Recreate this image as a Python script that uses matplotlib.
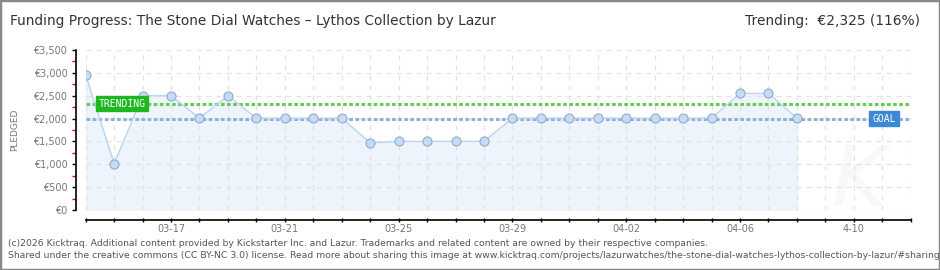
import matplotlib
matplotlib.use("Agg")
import matplotlib.pyplot as plt
from matplotlib.patches import Rectangle
from matplotlib.ticker import MultipleLocator, FuncFormatter

# data (day 0 = 03-14)
days = list(range(26))
pledged = [2950, 1010, 2500, 2500, 2010, 2500, 2010, 2010, 2010, 2010,
           1470, 1500, 1500, 1500, 1500, 2010, 2010, 2010, 2010, 2010,
           2010, 2010, 2010, 2550, 2550, 2010]
goal = 2000
trending = 2325
tick_days = [3, 7, 11, 15, 19, 23, 27]
tick_labels = ['03-17', '03-21', '03-25', '03-29', '04-02', '04-06', '4-10']

W, H = 940, 270
fig = plt.figure(figsize=(W / 100, H / 100), dpi=100)
fig.patch.set_facecolor('white')

# axes box in pixels: x 85.7..910.7, y 50..210 (from top)
x0, x1, yt, yb = 85.7, 910.7, 50, 210
ax = fig.add_axes([x0 / W, 1 - yb / H, (x1 - x0) / W, (yb - yt) / H])
ax.set_xlim(0, 29)
ax.set_ylim(0, 3500)

ax.fill_between(days, pledged, 0, color='#eef4fc', zorder=1)
ax.plot(days, pledged, color='#b9d5f2', lw=1, zorder=3)
ax.plot(days, pledged, 'o', ms=6.5, mfc='#c5dcf6', mec='#92abc8', mew=0.8, zorder=4)

ax.axhline(trending, color='#66cc55', lw=2.2, ls=(0, (1.2, 0.8)), zorder=2)
ax.axhline(goal, color='#8fb0d8', lw=2.2, ls=(0, (1.2, 0.8)), zorder=2)

ax.text(0.45, trending, 'TRENDING', color='white', fontsize=7, va='center', ha='left',
        family='DejaVu Sans Mono', zorder=5,
        bbox=dict(boxstyle='square,pad=0.25', fc='#1fb71f', ec='#1fb71f'))
ax.text(27.65, goal, 'GOAL', color='white', fontsize=7, va='center', ha='left',
        family='DejaVu Sans Mono', zorder=5,
        bbox=dict(boxstyle='square,pad=0.3', fc='#3d88d5', ec='#3d88d5'))

# faint watermark
ax.text(27.2, 600, 'K', fontsize=60, style='italic', color='#f8f8f8',
        ha='center', va='center', zorder=0)

ax.set_xticks(range(30))
labels = ['' for _ in range(30)]
for d, lab in zip(tick_days, tick_labels):
    labels[d] = lab
ax.set_xticklabels(labels)
ax.yaxis.set_major_locator(MultipleLocator(500))
ax.yaxis.set_minor_locator(MultipleLocator(250))
ax.grid(True, which='major', color='#e2e2e2', lw=0.9, ls=(0, (4, 4)), zorder=0)
ax.yaxis.set_major_formatter(FuncFormatter(lambda v, p: '€{:,.0f}'.format(v)))

for s in ['top', 'right']:
    ax.spines[s].set_visible(False)
ax.spines['left'].set_position(('outward', 7.2))
ax.spines['bottom'].set_position(('outward', 7.2))
ax.spines['left'].set_linewidth(1.2)
ax.spines['bottom'].set_linewidth(1.2)

ax.tick_params(axis='y', which='major', length=3, width=1, color='black',
               labelsize=7, labelcolor='#777777', pad=3)
ax.tick_params(axis='y', which='minor', length=3, width=1, color='#e00000')
ax.tick_params(axis='x', direction='inout', length=3.5, width=1, color='black',
               labelsize=7, labelcolor='#777777', pad=1)

ax.set_ylabel('PLEDGED', fontsize=6.5, color='#777777', labelpad=10)

fam = ['DejaVu Sans Condensed', 'DejaVu Sans']
fig.text(10 / W, 1 - 21 / H,
         'Funding Progress: The Stone Dial Watches \u2013 Lythos Collection by Lazur',
         fontsize=9.9, family=fam, color='#333333', va='center', ha='left')
fig.text(920 / W, 1 - 21 / H, 'Trending:  €2,325 (116%)',
         fontsize=9.9, family=fam, color='#333333', va='center', ha='right')

fig.text(8 / W, 1 - 243 / H,
         '(c)2026 Kicktraq. Additional content provided by Kickstarter Inc. and Lazur. '
         'Trademarks and related content are owned by their respective companies.',
         fontsize=6.65, family=fam, color='#555555', va='center', ha='left')
fig.text(8 / W, 1 - 256 / H,
         'Shared under the creative commons (CC BY-NC 3.0) license. Read more about sharing '
         'this image at www.kicktraq.com/projects/lazurwatches/the-stone-dial-watches-'
         'lythos-collection-by-lazur/#sharing',
         fontsize=6.65, family=fam, color='#555555', va='center', ha='left')

fig.patches.append(Rectangle((0, 0), 1, 1, transform=fig.transFigure, fill=False,
                             ec='#888888', lw=2.5, zorder=10))

fig.savefig('out.png', dpi=100)
